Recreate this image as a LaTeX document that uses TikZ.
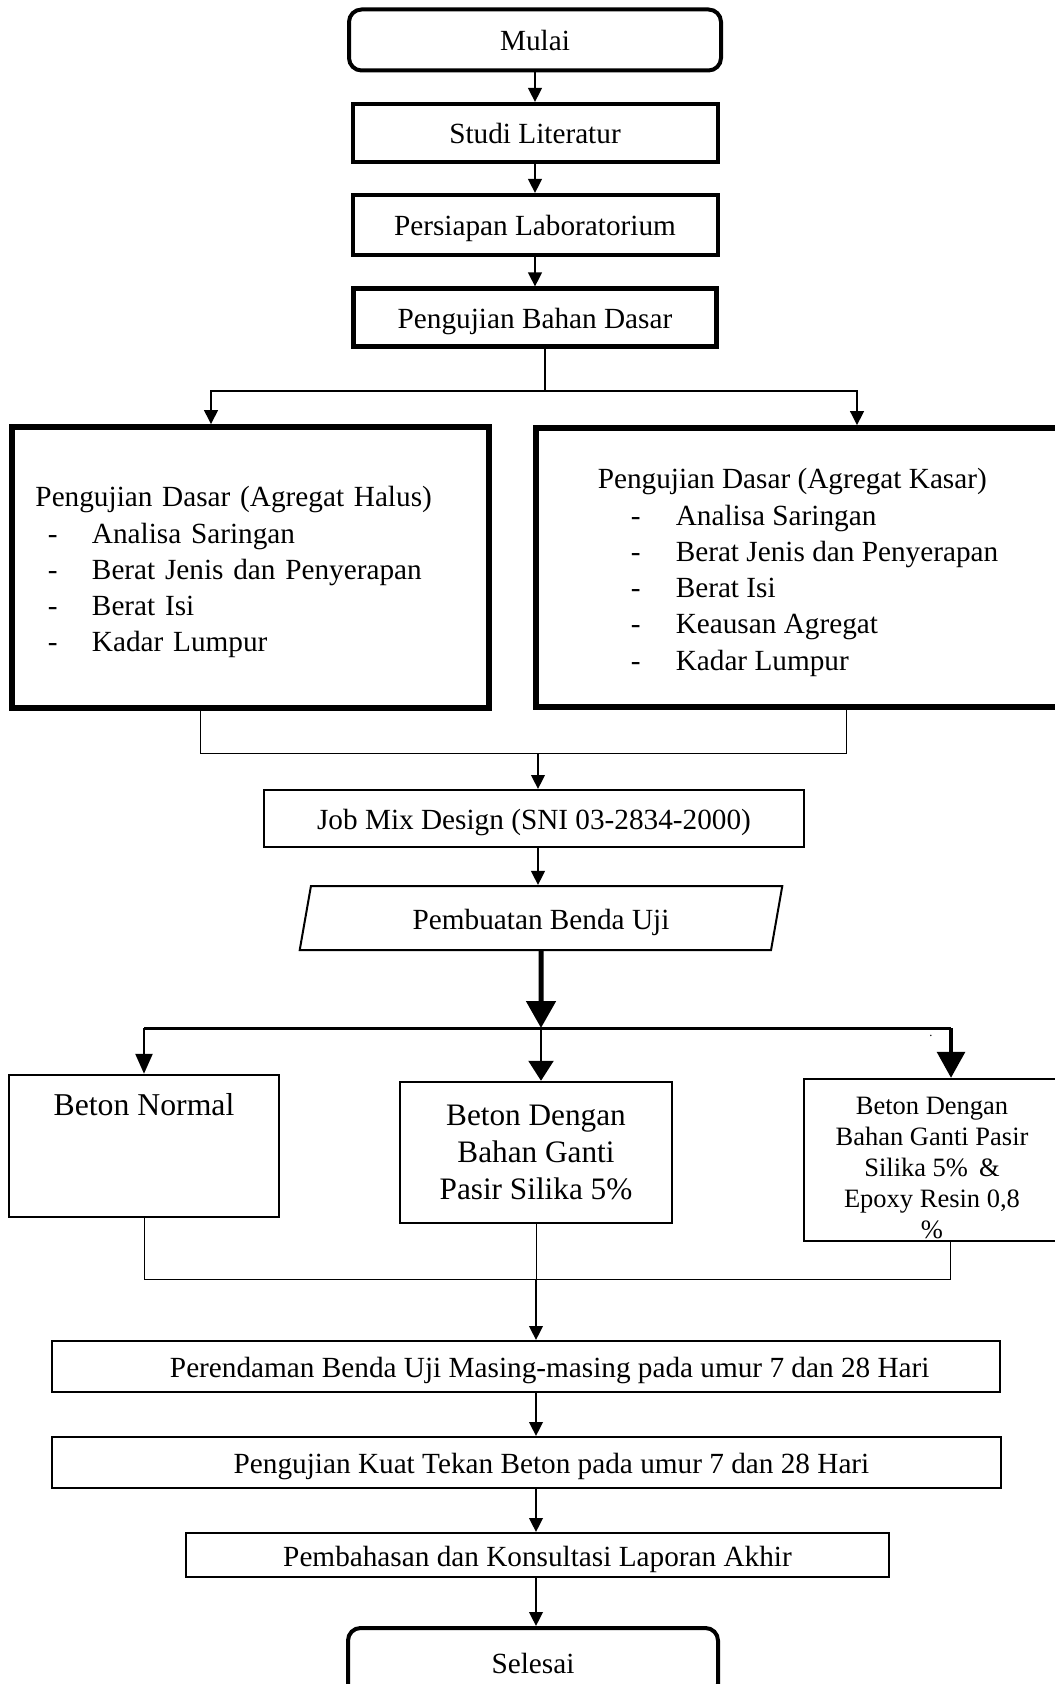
\documentclass[tikz,border=0pt]{standalone}
\usepackage{fontspec}
\setmainfont{Liberation Serif}
\usetikzlibrary{arrows.meta,shapes.geometric}

% dash item with fixed indents
\newcommand{\butir}[3]{\makebox[#2][l]{\hspace*{#1}-}#3}

\tikzset{
  panah/.style={-{Triangle[width=5.4pt,length=5.6pt]}, line width=1pt},
  panahtebal/.style={-{Triangle[width=11.6pt,length=10.8pt]}, line width=2pt},
  ukuran/.style 2 args={minimum width=#1*0.4pt, minimum height=#2*0.4pt},
  kotak/.style={draw, line width=0.8pt, inner sep=0pt, font=\fontsize{11.7}{14.5}\selectfont},
  baris/.style={text height=11.1pt, text depth=2.3pt},
  tebal/.style={kotak, line width=1.6pt},
  bulat/.style={tebal, rounded corners=5pt},
}

\begin{document}
\begin{tikzpicture}[x=0.4pt, y=-0.4pt]
    \useasboundingbox (0,0) rectangle (1054,1684);

    % tahap awal
    \node[bulat, baris, ukuran={372}{61}] (mulai) at (535,40) {Mulai};
    \node[tebal, baris, ukuran={365}{58}] (studi) at (535,133) {Studi Literatur};
    \node[tebal, baris, ukuran={365}{60}] (persiapan) at (535,225) {Persiapan Laboratorium};
    \node[tebal, baris, line width=2pt, ukuran={363}{58}] (dasar) at (535,318) {Pengujian Bahan Dasar};
    \foreach \a/\b in {mulai/studi, studi/persiapan, persiapan/dasar}
        \draw[panah] (\a) -- (\b);

    % pengujian agregat
    \node[tebal, line width=2.2pt, align=left, text width=172pt, inner xsep=9.4pt, ukuran={477}{281}] (halus) at (250.5,567.5) {\rule{0pt}{12pt}Pengujian Dasar (Agregat Halus)\\
        \butir{5pt}{22.6pt}{Analisa Saringan}\\
        \butir{5pt}{22.6pt}{Berat Jenis dan Penyerapan}\\
        \butir{5pt}{22.6pt}{Berat Isi}\\
        \butir{5pt}{22.6pt}{Kadar Lumpur}};
    \node[tebal, line width=2.2pt, align=left, ukuran={524}{279}] (kasar) at (798,567.5) {\rule{0pt}{12pt}Pengujian Dasar (Agregat Kasar)\\
        \butir{13.2pt}{31.2pt}{Analisa Saringan}\\
        \butir{13.2pt}{31.2pt}{Berat Jenis dan Penyerapan}\\
        \butir{13.2pt}{31.2pt}{Berat Isi}\\
        \butir{13.2pt}{31.2pt}{Keausan Agregat}\\
        \butir{13.2pt}{31.2pt}{Kadar Lumpur}};

    \coordinate (c1) at (545,391);
    \coordinate (c1kiri) at (211,391);
    \coordinate (c1kanan) at (857,391);
    \draw[line width=0.7pt] (dasar.south -| c1) -- (c1);
    \draw[panah, line width=0.8pt] (c1) -| (halus.north -| c1kiri);
    \draw[panah, line width=0.8pt] (c1) -| (kasar.north -| c1kanan);

    \coordinate (c2) at (538,753);
    \coordinate (c2kiri) at (200,753);
    \coordinate (c2kanan) at (846,753);
    \draw (halus.south -| c2kiri) -- (c2kiri) -- (c2kanan) -- (kasar.south -| c2kanan);

    % rancangan campuran
    \node[kotak, baris, ukuran={540}{57}] (jobmix) at (534,818.5) {Job Mix Design (SNI 03-2834-2000)};
    \node[kotak, baris, shape=trapezium, trapezium left angle=79.4, trapezium right angle=100.6,
        trapezium stretches=true, ukuran={483}{64}] (pembuatan) at (541,918) {Pembuatan Benda Uji};
    \draw[panah] (c2) -- (jobmix.north -| c2);
    \draw[panah] (jobmix.south -| c2) -- (pembuatan.north -| c2);

    % variasi beton
    \node[kotak, line width=1pt, ukuran={270}{142}] (normal) at (144,1146) {};
    \node[font=\fontsize{12.7}{15}\selectfont] (tnormal) at (144,1105) {Beton Normal};
    \node[kotak, line width=1pt, align=center, font=\fontsize{12.5}{14.8}\selectfont, ukuran={272}{141}] (silika) at (536,1152.5) {Beton Dengan\\Bahan Ganti\\Pasir Silika 5\%};
    \node[kotak, line width=1pt, ukuran={256}{162}] (epoxy) at (932,1160) {};
    \node[align=center, font=\fontsize{10.6}{12.4}\selectfont] (tepoxy) at (932,1168) {Beton Dengan\\Bahan Ganti Pasir\\Silika 5\% \,\&\\Epoxy Resin 0,8\\\%};
    \node[font=\fontsize{5}{6}\selectfont] (titik) at (931,1036) {.};

    \coordinate (c3) at (541,1028);
    \coordinate (c3kiri) at (144,1028);
    \coordinate (c3kanan) at (951,1028);
    \draw[panahtebal] (pembuatan.south) -- (c3);
    \draw[line width=1.2pt] (c3kiri) -- (c3kanan);
    \draw[panah, -{Triangle[width=6.8pt,length=8pt]}] (c3kiri) -- (normal);
    \draw[panah, -{Triangle[width=10pt,length=8pt]}] (c3) -- (silika.north -| c3);
    \draw[panah, line width=1.3pt, -{Triangle[width=11.2pt,length=10.4pt]}] (c3kanan) -- (epoxy.north -| c3kanan);

    \coordinate (c4) at (536,1279);
    \coordinate (c4kiri) at (144,1279);
    \coordinate (c4kanan) at (950,1279);
    \draw (normal) -- (c4kiri) -- (c4kanan) -- (epoxy.south -| c4kanan);
    \draw (silika.south -| c4) -- (c4);

    % tahap akhir
    \node[kotak, baris, ukuran={948}{51}] (rendam) at (526,1366.5) {\hspace*{19pt}Perendaman Benda Uji Masing-masing pada umur 7 dan 28 Hari};
    \node[kotak, baris, ukuran={949}{51}] (tekan) at (526.5,1462.5) {\hspace*{20pt}Pengujian Kuat Tekan Beton pada umur 7 dan 28 Hari};
    \node[kotak, baris, ukuran={703}{44}] (bahas) at (537.5,1555) {Pembahasan dan Konsultasi Laporan Akhir};
    \node[bulat, baris, ukuran={370}{68}] (selesai) at (533,1662) {Selesai};
    \draw[panah] (c4) -- (rendam.north -| c4);
    \foreach \a/\b in {rendam/tekan, tekan/bahas, bahas/selesai}
        \draw[panah] (\a.south -| c4) -- (\b.north -| c4);
\end{tikzpicture}
\end{document}
